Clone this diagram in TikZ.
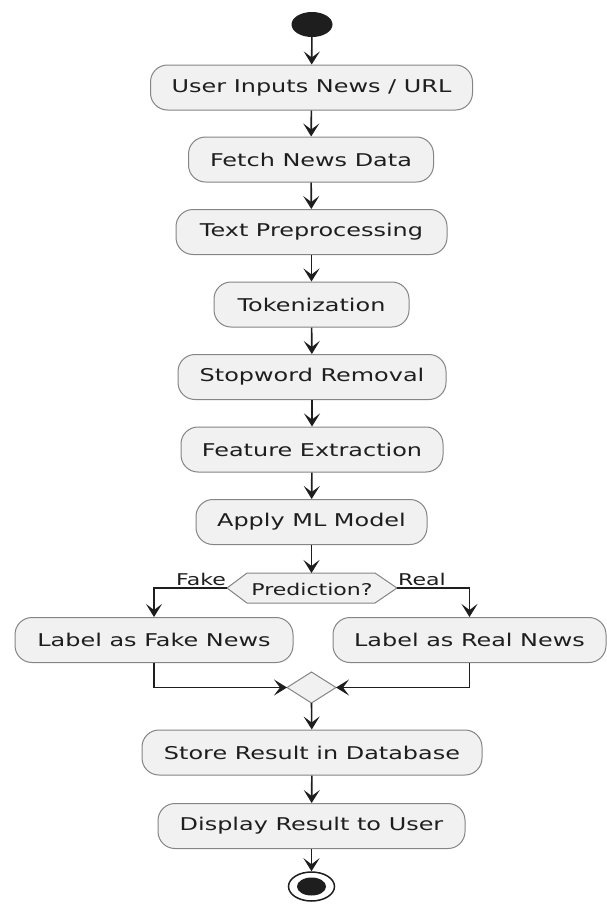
\documentclass[tikz,border=0pt]{standalone}
\usepackage{fontspec}
\setmainfont{DejaVu Sans}[FakeStretch=1.36]
\usetikzlibrary{shapes.geometric,arrows.meta}
\definecolor{boxfill}{HTML}{F1F1F1}
\definecolor{boxline}{HTML}{858585}
\definecolor{ink}{HTML}{1E1E1E}
\tikzset{
  actbox/.style={draw=boxline, fill=boxfill, line width=1pt, rounded corners=17pt,
    minimum height=45pt, inner sep=0pt, text=ink, font=\fontsize{17.6}{20}\selectfont},
  arr/.style={draw=ink, line width=1.6pt, -{Stealth[length=13pt,width=16pt,inset=6pt]}},
  shapeline/.style={draw=boxline, fill=boxfill, line width=1pt},
  small/.style={text=ink, font=\fontsize{16.2}{18}\selectfont, inner sep=0pt}
}
\begin{document}
\begin{tikzpicture}[x=1pt,y=-1pt]
\useasboundingbox[fill=white] (0,0) rectangle (606,905);
% start
\node[ellipse, fill=ink, minimum width=41pt, minimum height=25pt, inner sep=0pt] (start) at (312,24.5) {};
% activities
\node[actbox, minimum width=322pt] (b1) at (311.5,87.5) {User Inputs News / URL};
\node[actbox, minimum width=245pt] (b2) at (311,159.5) {Fetch News Data};
\node[actbox, minimum width=271pt] (b3) at (311.5,232) {Text Preprocessing};
\node[actbox, minimum width=195pt] (b4) at (311.5,304.5) {Tokenization};
\node[actbox, minimum width=268pt] (b5) at (312,377) {Stopword Removal};
\node[actbox, minimum width=262pt] (b6) at (312,449.5) {Feature Extraction};
\node[actbox, minimum width=231pt] (b7) at (311.5,522) {Apply ML Model};
% decision
\draw[shapeline] (227,588) coordinate (predL) -- (247,573) -- (311.5,573) coordinate (predT) -- (375,573)
  -- (397,588) coordinate (predR) -- (375,603) -- (247,603) -- cycle;
\node[small] (pred) at (312,589) {Prediction?};
\node[small, anchor=base east] (lfake) at (226,585) {Fake};
\node[small, anchor=base west] (lreal) at (398,585) {Real};
% branches
\node[actbox, minimum width=278pt] (fake) at (154,640) {Label as Fake News};
\node[actbox, minimum width=273pt] (real) at (469.5,640) {Label as Real News};
% merge
\draw[shapeline] (287,687.5) coordinate (mL) -- (311.5,672) coordinate (mT) -- (336,687.5) coordinate (mR)
  -- (311.5,703) coordinate (mB) -- cycle;
% final steps
\node[actbox, minimum width=340pt] (store) at (312,752.5) {Store Result in Database};
\node[actbox, minimum width=307pt] (disp) at (311.5,826) {Display Result to User};
% end
\node[ellipse, draw=ink, line width=1.5pt, fill=white, minimum width=46pt, minimum height=29pt, inner sep=0pt] (endo) at (311.5,886.5) {};
\node[ellipse, fill=ink, minimum width=29pt, minimum height=18pt, inner sep=0pt] (endi) at (311.5,886.5) {};
% connectors
\draw[arr] (start) -- (b1);
\draw[arr] (b1) -- (b2);
\draw[arr] (b2) -- (b3);
\draw[arr] (b3) -- (b4);
\draw[arr] (b4) -- (b5);
\draw[arr] (b5) -- (b6);
\draw[arr] (b6) -- (b7);
\draw[arr] (b7) -- (predT);
\draw[arr] (predL) -| (fake.north);
\draw[arr] (predR) -| (real.north);
\draw[arr] (fake.south) |- (mL);
\draw[arr] (real.south) |- (mR);
\draw[arr] (mB) -- (store);
\draw[arr] (store) -- (disp);
\draw[arr] (disp) -- (endo);
\end{tikzpicture}
\end{document}
